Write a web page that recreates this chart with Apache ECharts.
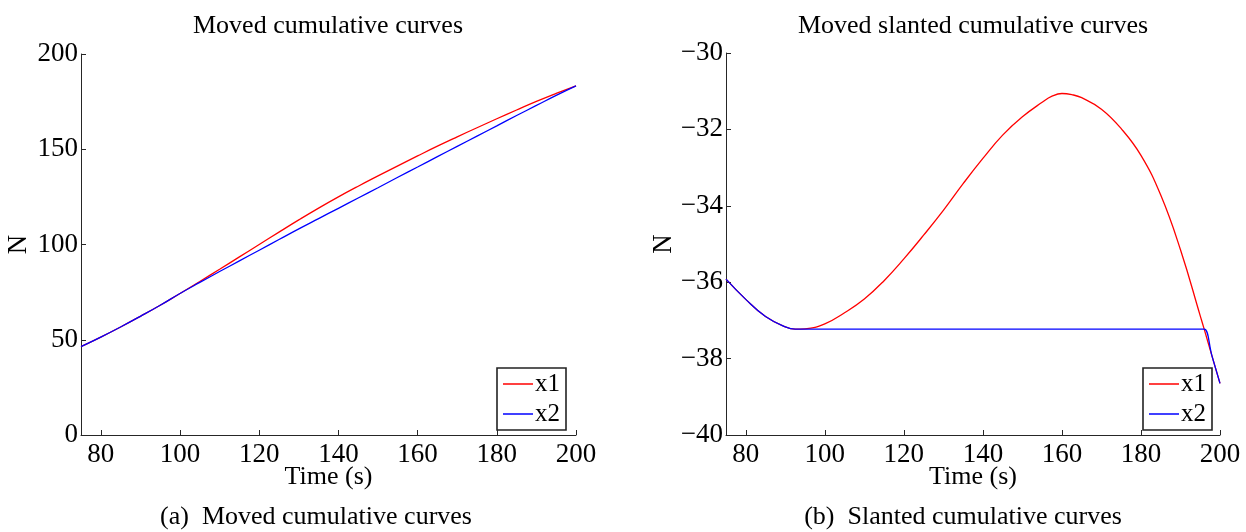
<!DOCTYPE html>
<html>
<head>
<meta charset="utf-8">
<script src="https://cdn.jsdelivr.net/npm/echarts@6/dist/echarts.min.js"></script>
<style>html,body{margin:0;padding:0;background:#fff;}#c{width:1246px;height:532px;}</style>
</head>
<body>
<div id="c"></div>
<script>
// ---- data ----
const timeA = [75,80,85,90,95,100,105,110,115,120,125,130,135,140,145,150,155,160,165,170,175,180,185,190,195,200];
const x1A = [46.4,51.4,56.7,62.3,68.1,74.3,80.6,87.0,93.5,100.0,106.5,112.9,119.1,125.0,130.6,136.0,141.3,146.5,151.6,156.5,161.3,166.0,170.6,175.1,179.3,183.3];
const x2A = [46.4,51.4,56.7,62.3,68.1,74.3,80.1,85.8,91.4,97.0,102.6,108.2,113.6,119.0,124.4,129.8,135.3,140.7,146.1,151.5,156.9,162.3,167.7,173.0,178.3,183.3];

const timeB = [75,80,85,90,92.5,95,100,105,110,115,120,125,130,135,140,145,150,155,157.5,160,162.5,165,170,175,180,185,190,195,196,198,200];
const x1B = [-35.92,-36.45,-36.9,-37.17,-37.23,-37.22,-37.09,-36.8,-36.44,-35.96,-35.39,-34.77,-34.12,-33.42,-32.76,-32.15,-31.67,-31.29,-31.13,-31.06,-31.09,-31.17,-31.47,-31.98,-32.68,-33.72,-35.15,-36.88,-37.23,-37.94,-38.65];
const x2B = [-35.92,-36.45,-36.9,-37.17,-37.23,-37.23,-37.23,-37.23,-37.23,-37.23,-37.23,-37.23,-37.23,-37.23,-37.23,-37.23,-37.23,-37.23,-37.23,-37.23,-37.23,-37.23,-37.23,-37.23,-37.23,-37.23,-37.23,-37.23,-37.23,-37.94,-38.65];

const xTicks = [80,100,120,140,160,180,200];
const titles = ['Moved cumulative curves', 'Moved slanted cumulative curves'];
const captions = ['(a)  Moved cumulative curves', '(b)  Slanted cumulative curves'];
const seriesNames = ['x1', 'x2'];

// ---- chart ----
const FONT = '"Liberation Serif", "DejaVu Serif", serif';
const AX = '#262626';
const zip = (a, b) => a.map((v, i) => [v, b[i]]);
const minus = v => String(v).replace('-', '\u2212');

function xAx(gi) {
  return {
    type: 'value', gridIndex: gi, min: 75, max: 200,
    name: 'Time (s)', nameLocation: 'middle', nameGap: 29, nameMoveOverlap: false,
    nameTextStyle: {fontFamily: FONT, fontSize: 26, color: '#000'},
    axisLine: {show: true, lineStyle: {color: AX, width: 1}},
    axisTick: {show: true, inside: true, length: 5, lineStyle: {color: AX}, customValues: xTicks},
    axisLabel: {fontFamily: FONT, fontSize: 27, color: '#000', margin: 6, customValues: xTicks},
    splitLine: {show: false}
  };
}
function yAx(gi, min, max, interval) {
  return {
    type: 'value', gridIndex: gi, min: min, max: max, interval: interval,
    name: 'N', nameLocation: 'middle', nameGap: 49, nameMoveOverlap: false,
    nameTextStyle: {fontFamily: FONT, fontSize: 27, color: '#000'},
    axisLine: {show: true, lineStyle: {color: AX, width: 1}},
    axisTick: {show: true, inside: true, length: 5, lineStyle: {color: AX}},
    axisLabel: {fontFamily: FONT, fontSize: 27, color: '#000', margin: 3, formatter: minus},
    splitLine: {show: false}
  };
}
function line(name, gi, data, color, z) {
  return {
    type: 'line', name: name, xAxisIndex: gi, yAxisIndex: gi,
    data: data, symbol: 'none', smooth: 0.45,
    lineStyle: {color: color, width: 1.3}, itemStyle: {color: color}, z: z
  };
}
function legend(left) {
  return {
    data: seriesNames, orient: 'vertical', left: left, top: 368,
    icon: 'rect', itemWidth: 30, itemHeight: 1.5, itemGap: 2,
    padding: [2, 6, 2, 6],
    borderColor: '#222', borderWidth: 1.6, backgroundColor: '#fff',
    textStyle: {fontFamily: FONT, fontSize: 25, color: '#000', lineHeight: 28, padding: [0,0,0,-3]},
    selectedMode: false
  };
}
function txt(s, x, y, size) {
  return {type: 'text', x: x, y: y, style: {text: s, font: size + 'px ' + FONT, fill: '#000', align: 'center', verticalAlign: 'middle'}};
}

const chart = echarts.init(document.getElementById('c'), null, {renderer: 'canvas'});
chart.setOption({
  animation: false,
  backgroundColor: '#fff',
  grid: [
    {left: 81, width: 495, top: 54, height: 381},
    {left: 726, width: 494, top: 53, height: 382}
  ],
  xAxis: [xAx(0), xAx(1)],
  yAxis: [yAx(0, 0, 200, 50), yAx(1, -40, -30, 2)],
  legend: [legend(497), legend(1143)],
  series: [
    line(seriesNames[0], 0, zip(timeA, x1A), '#ff0000', 2),
    line(seriesNames[1], 0, zip(timeA, x2A), '#0000ff', 3),
    line(seriesNames[0], 1, zip(timeB, x1B), '#ff0000', 2),
    line(seriesNames[1], 1, zip(timeB, x2B), '#0000ff', 3)
  ],
  graphic: [
    txt(titles[0], 328, 26, 26),
    txt(titles[1], 973, 26, 26),
    txt(captions[0], 316, 517, 26),
    txt(captions[1], 963, 517, 26)
  ]
});
</script>
</body>
</html>
